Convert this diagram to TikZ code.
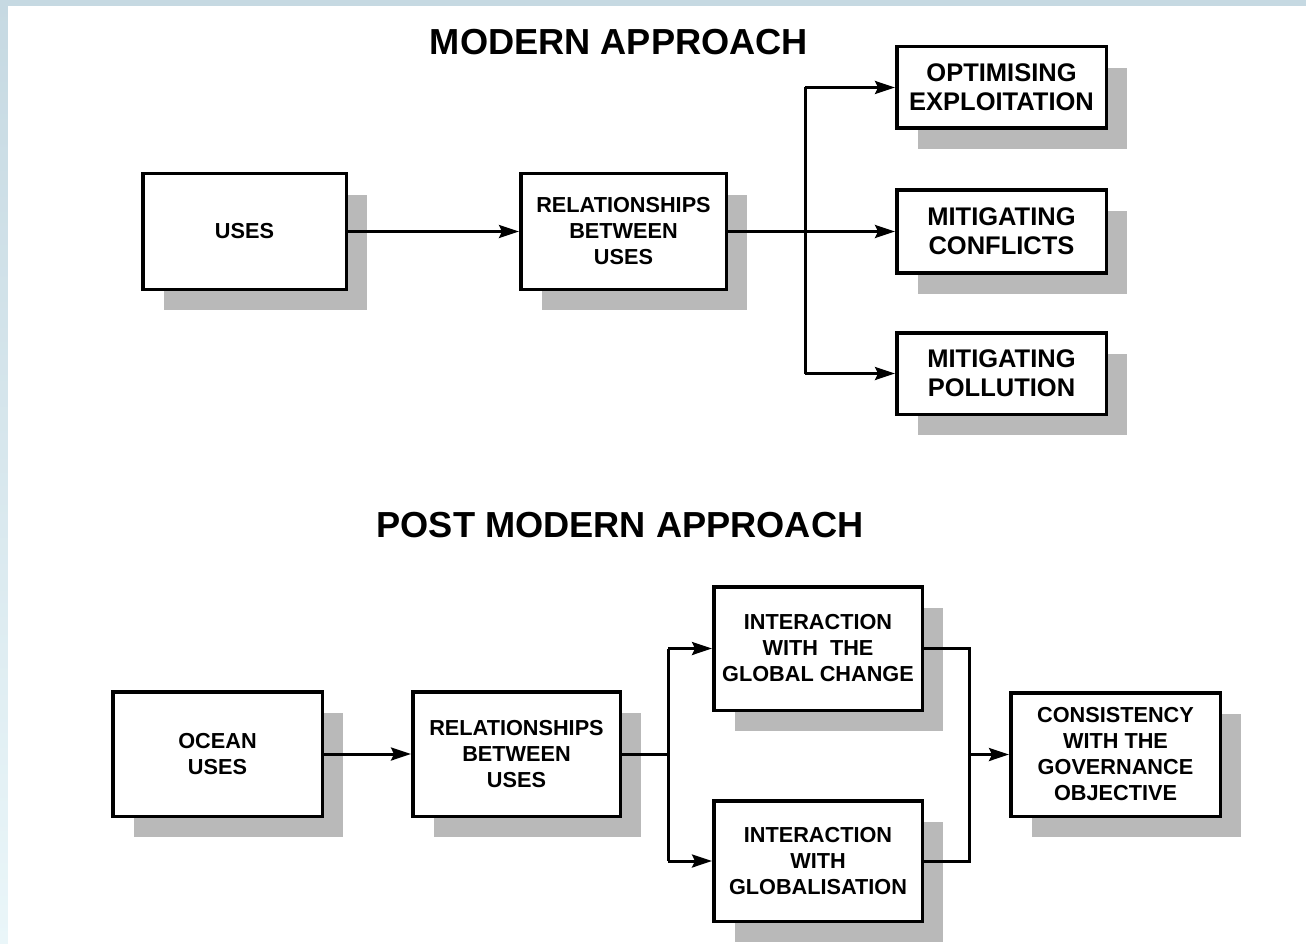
\documentclass[tikz,border=0pt]{standalone}
\usepackage{fontspec}
\setmainfont{Liberation Sans}
\usetikzlibrary{arrows.meta,shadows}
\definecolor{shadowgray}{HTML}{B9B9B9}
\definecolor{edgeA}{HTML}{C6D9E2}
\definecolor{edgeB}{HTML}{EAF6F9}
\tikzset{
  box/.style={draw=black, line width=3.5pt, fill=white, align=center,
    inner sep=0pt, font=\bfseries\fontsize{21.7}{26}\selectfont,
    drop shadow={shadow xshift=21pt, shadow yshift=-21pt, fill=shadowgray, opacity=1}},
  bigbox/.style={box, font=\bfseries\fontsize{25.5}{29}\selectfont},
  title/.style={font=\bfseries\fontsize{36.2}{40}\selectfont},
  link/.style={line width=3pt},
  arr/.style={link, -{Stealth[length=20pt,width=13pt,inset=3pt]}}
}
\begin{document}
\begin{tikzpicture}[x=1pt,y=-1pt]
  % page frame: tinted edges on the left and top, white sheet
  \useasboundingbox (0,0) rectangle (1306,944);
  \shade[top color=edgeA, bottom color=edgeB] (0,0) rectangle (1306,944);
  \fill[white] (8,6) rectangle (1306,944);

  % ---------- modern approach ----------
  \node[title] (t1) at (619,42) {MODERN APPROACH};
  \node[box, minimum width=203.5pt, minimum height=115.5pt] (uses) at (244.5,231.5) {USES};
  \node[box, minimum width=205.5pt, minimum height=115.5pt] (relT) at (623.5,231.5) {RELATIONSHIPS\\BETWEEN\\USES};
  \node[bigbox, minimum width=209.5pt, minimum height=81.5pt] (opt) at (1001.5,87.5) {OPTIMISING\\EXPLOITATION};
  \node[bigbox, minimum width=209.5pt, minimum height=82.5pt] (conf) at (1001.5,231.5) {MITIGATING\\CONFLICTS};
  \node[bigbox, minimum width=209.5pt, minimum height=81.5pt] (poll) at (1001.5,373.5) {MITIGATING\\POLLUTION};

  \coordinate (jt) at (805,0);
  \draw[arr] (uses.east) -- (relT.west);
  \draw[arr] (relT.east) -- (conf.west);
  \draw[link] (jt |- opt.west) -- (jt |- poll.west);
  \draw[arr] (jt |- opt.west) -- (opt.west);
  \draw[arr] (jt |- poll.west) -- (poll.west);

  % ---------- post modern approach ----------
  \node[title] (t2) at (620,525) {POST MODERN APPROACH};
  \node[box, minimum width=209.5pt, minimum height=124.5pt] (ocean) at (217.5,754) {OCEAN\\USES};
  \node[box, minimum width=207.5pt, minimum height=124.5pt] (relB) at (516.5,754) {RELATIONSHIPS\\BETWEEN\\USES};
  \node[box, minimum width=208.5pt, minimum height=123.5pt] (igc) at (818,648.5) {INTERACTION\\WITH\ \ THE\\GLOBAL CHANGE};
  \node[box, minimum width=208.5pt, minimum height=120.5pt] (ig) at (818,861) {INTERACTION\\WITH\\GLOBALISATION};
  \node[box, minimum width=209.5pt, minimum height=123.5pt] (cons) at (1115.5,754.5) {CONSISTENCY\\WITH THE\\GOVERNANCE\\OBJECTIVE};

  \coordinate (jb) at (668,0);
  \coordinate (jc) at (969,0);
  \draw[arr] (ocean.east) -- (relB.west);
  \draw[link] (relB.east) -- (jb |- relB.east);
  \draw[link] (jb |- igc.west) -- (jb |- ig.west);
  \draw[arr] (jb |- igc.west) -- (igc.west);
  \draw[arr] (jb |- ig.west) -- (ig.west);
  \draw[link] (igc.east) -- (jc |- igc.east) -- (jc |- ig.east) -- (ig.east);
  \draw[arr] (jc |- cons.west) -- (cons.west);
\end{tikzpicture}
\end{document}
